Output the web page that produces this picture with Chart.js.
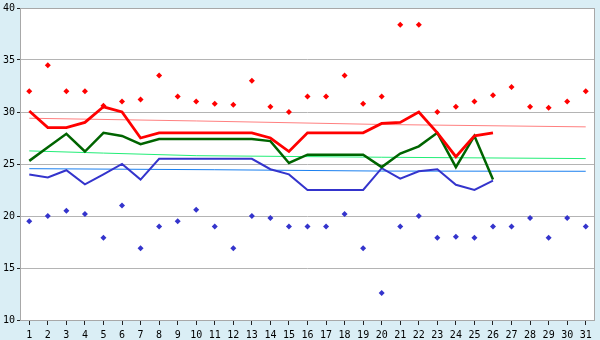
<!DOCTYPE html>
<html lang="en">
<head>
<meta charset="UTF-8">
<title>Daily temperatures</title>
<script src="https://cdn.jsdelivr.net/npm/chart.js@4.4.0/dist/chart.umd.min.js"></script>
<style>
  html, body { margin: 0; padding: 0; background: #daeef5; }
  canvas { display: block; }
</style>
</head>
<body>
<canvas id="chart" width="600" height="340"></canvas>
<script>
const days = ['1','2','3','4','5','6','7','8','9','10','11','12','13','14','15','16',
              '17','18','19','20','21','22','23','24','25','26','27','28','29','30','31'];

// record highs / lows (diamond markers)
const recordHigh = [32, 34.5, 32, 32, 30.6, 31, 31.2, 33.5, 31.5, 31, 30.8, 30.7, 33, 30.5, 30,
                    31.5, 31.5, 33.5, 30.8, 31.5, 38.4, 38.4, 30, 30.5, 31, 31.6, 32.4, 30.5, 30.4, 31, 32];
const recordLow = [19.5, 20, 20.5, 20.2, 17.9, 21, 16.9, 19, 19.5, 20.6, 19, 16.9, 20, 19.8, 19,
                   19, 19, 20.2, 16.9, 12.6, 19, 20, 17.9, 18, 17.9, 19, 19, 19.8, 17.9, 19.8, 19];

// this month's readings (up to day 26)
const maxTemp = [30.1, 28.5, 28.5, 29, 30.5, 30, 27.5, 28, 28, 28, 28, 28, 28, 27.5, 26.2,
                 28, 28, 28, 28, 28.9, 29, 30, 28, 25.7, 27.7, 28, null, null, null, null, null];
const meanTemp = [25.3, 26.6, 27.9, 26.2, 28, 27.7, 26.9, 27.4, 27.4, 27.4, 27.4, 27.4, 27.4, 27.2, 25.1,
                  25.9, 25.9, 25.9, 25.9, 24.7, 26, 26.7, 28, 24.7, 27.7, 23.5, null, null, null, null, null];
const minTemp = [24, 23.7, 24.4, 23.05, 24, 25, 23.5, 25.5, 25.5, 25.5, 25.5, 25.5, 25.5, 24.5, 24,
                 22.5, 22.5, 22.5, 22.5, 24.6, 23.6, 24.3, 24.5, 23, 22.5, 23.4, null, null, null, null, null];

// long-term normals, read at a few days
const normalHigh = {1: 29.4, 10: 29.14, 20: 28.8, 31: 28.57};
const normalMean = {1: 26.26, 5: 26.05, 10: 25.8, 20: 25.65, 31: 25.52};
const normalLow = {1: 24.55, 11: 24.45, 20: 24.32, 31: 24.3};

const yTicks = [10, 15, 20, 25, 30, 35, 40];

function spread(pts) {
    return days.map(d => (pts[d] !== undefined ? pts[d] : null));
}

const bgPlugin = {
    id: 'bg',
    beforeDraw(chart) {
        const c = chart.ctx, a = chart.chartArea;
        c.save();
        c.fillStyle = '#daeef5';
        c.fillRect(0, 0, chart.width, chart.height);
        c.fillStyle = '#ffffff';
        c.fillRect(a.left, a.top, a.right - a.left, a.bottom - a.top);
        c.restore();
    },
    afterDraw(chart) {
        const c = chart.ctx, a = chart.chartArea;
        c.save();
        c.strokeStyle = '#a8a8a8';
        c.lineWidth = 1;
        c.strokeRect(a.left + 0.5, a.top + 0.5, a.right - a.left - 1, a.bottom - a.top);
        c.restore();
    }
};

function lineSet(data, color, width, order) {
    return { data: data, borderColor: color, backgroundColor: color, borderWidth: width,
             pointRadius: 0, tension: 0, spanGaps: true, order: order };
}
function dotSet(data, color) {
    return { data: data, showLine: false, pointStyle: 'rectRot', pointRadius: 3,
             pointBackgroundColor: color, pointBorderColor: color, pointBorderWidth: 0, order: 0 };
}

const tickFont = { family: 'DejaVu Sans Mono', size: 10 };

const ctx = document.getElementById('chart').getContext('2d');
new Chart(ctx, {
    type: 'line',
    data: {
        labels: days,
        datasets: [
            lineSet(spread(normalHigh), '#ff8080', 1, 5),
            lineSet(spread(normalMean), '#22ee77', 1, 5),
            lineSet(spread(normalLow), '#1a80f0', 1, 5),
            lineSet(minTemp, '#3434cc', 2, 3),
            lineSet(meanTemp, '#006400', 2.5, 2),
            lineSet(maxTemp, '#ff0000', 2.8, 1),
            dotSet(recordHigh, '#ff0000'),
            dotSet(recordLow, '#3434cc')
        ]
    },
    options: {
        responsive: false,
        animation: false,
        layout: { padding: { top: 5, right: 5, left: 0, bottom: 0 } },
        plugins: { legend: { display: false }, tooltip: { enabled: false } },
        scales: {
            x: {
                offset: true,
                afterFit: s => { s.height = 20; },
                grid: { drawOnChartArea: false, drawTicks: true, tickLength: 5, color: '#222222' },
                border: { display: false },
                ticks: { color: '#000', font: tickFont, padding: 4, maxRotation: 0, autoSkip: false }
            },
            y: {
                min: 10, max: 40,
                afterFit: s => { s.width = 20; },
                afterBuildTicks: s => { s.ticks = yTicks.map(v => ({ value: v })); },
                grid: { color: '#b4b4b4', tickLength: 3, tickColor: '#222222' },
                border: { display: false },
                ticks: { color: '#000', font: tickFont, padding: 2 }
            }
        }
    },
    plugins: [bgPlugin]
});
</script>
</body>
</html>
